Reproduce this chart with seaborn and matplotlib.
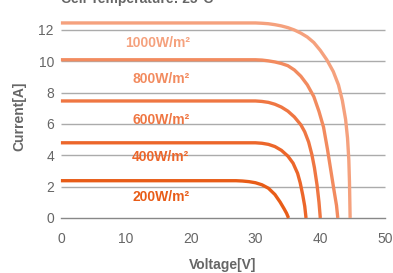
import numpy as np
import pandas as pd
import matplotlib
matplotlib.use("Agg")
import matplotlib.pyplot as plt
import seaborn as sns

# I-V curves (cell temperature 25 C)
irradiance = ["1000W/m²", "800W/m²", "600W/m²", "400W/m²", "200W/m²"]

v_1000 = [0, 30, 31, 32, 33, 34, 35, 36, 37, 38, 39, 40, 41, 42, 42.8, 43.4, 43.9, 44.2, 44.4, 44.5, 44.6]
i_1000 = [12.45, 12.45, 12.43, 12.4, 12.34, 12.26, 12.15, 12.0, 11.8, 11.55, 11.2, 10.7, 10.1, 9.35, 8.5, 7.5, 6.3, 5.1, 3.7, 2.3, 0]

v_800 = [0, 30, 31, 32, 33, 34, 35, 36, 37, 38, 39, 39.8, 40.5, 41.1, 41.6, 42.1, 42.5, 42.7]
i_800 = [10.1, 10.1, 10.08, 10.03, 9.96, 9.86, 9.72, 9.45, 9.05, 8.5, 7.75, 6.8, 5.8, 4.4, 3.1, 1.8, 0.8, 0]

v_600 = [0, 30, 31, 32, 33, 34, 35, 36, 37, 37.6, 38.2, 38.7, 39.1, 39.5, 39.8, 40.0]
i_600 = [7.47, 7.47, 7.44, 7.38, 7.26, 7.08, 6.82, 6.45, 5.95, 5.5, 4.85, 4.05, 3.2, 2.1, 1.0, 0]

v_400 = [0, 30, 31, 32, 33, 34, 35, 35.8, 36.5, 36.9, 37.3, 37.6, 37.8]
i_400 = [4.8, 4.8, 4.77, 4.7, 4.56, 4.32, 3.95, 3.5, 2.85, 2.25, 1.45, 0.75, 0]

v_200 = [0, 27, 28, 29, 30, 31, 32, 33, 33.8, 34.4, 34.8, 35.1]
i_200 = [2.38, 2.38, 2.36, 2.32, 2.25, 2.12, 1.9, 1.5, 1.02, 0.6, 0.3, 0]

x_ticks = [0, 10, 20, 30, 40, 50]
y_ticks = [0, 2, 4, 6, 8, 10, 12]

colors = ["#F5A17D", "#F28B5F", "#EF7642", "#EC662A", "#E85C17"]
label_pos = [(9.9, 11.2), (11.0, 8.9), (11.0, 6.25), (11.0, 3.9), (11.0, 1.36)]

frames = []
for name, v, i in zip(irradiance,
                      [v_1000, v_800, v_600, v_400, v_200],
                      [i_1000, i_800, i_600, i_400, i_200]):
    frames.append(pd.DataFrame({"Voltage": v, "Current": i, "Irradiance": name}))
df = pd.concat(frames, ignore_index=True)

sns.set_style("white")
plt.rcParams["font.family"] = ["Liberation Sans", "DejaVu Sans"]

fig = plt.figure(figsize=(3.93, 2.73), dpi=100)
ax = fig.add_axes([0.155, 0.2015, 0.825, 0.746])

# grid lines
for y in y_ticks[1:]:
    ax.axhline(y, color="#ababab", lw=1.0, zorder=1)

sns.lineplot(data=df, x="Voltage", y="Current", hue="Irradiance",
             hue_order=irradiance, palette=colors, sort=False,
             estimator=None, lw=2.4, legend=False, ax=ax, zorder=3)
for line in ax.lines:
    line.set_clip_on(False)
    line.set_solid_capstyle("butt")
    line.set_solid_joinstyle("round")

for name, c, (x, y) in zip(irradiance, colors, label_pos):
    ax.text(x, y, name, color=c, fontsize=10, fontweight="bold",
            ha="left", va="center")

ax.set_xlim(0, 50)
ax.set_ylim(0, 13)
ax.set_xticks(x_ticks)
ax.set_yticks(y_ticks)
for s in ["top", "right", "left"]:
    ax.spines[s].set_visible(False)
ax.spines["bottom"].set_color("#888888")
ax.spines["bottom"].set_linewidth(1.0)
ax.tick_params(axis="x", direction="in", length=6.5, width=1.0, color="#888888",
               labelcolor="#666666", labelsize=10, pad=10)
ax.tick_params(axis="y", length=0, labelcolor="#666666", labelsize=10, pad=5)

ax.set_xlabel("Voltage[V]", fontsize=10, fontweight="bold", color="#666666", labelpad=9)
ax.set_ylabel("Current[A]", fontsize=10, fontweight="bold", color="#666666", labelpad=9)

fig.text(0.155, 0.99, "Cell Temperature: 25°C", fontsize=10, fontweight="bold",
         color="#666666", ha="left", va="baseline")

fig.savefig("out.png", dpi=100)
